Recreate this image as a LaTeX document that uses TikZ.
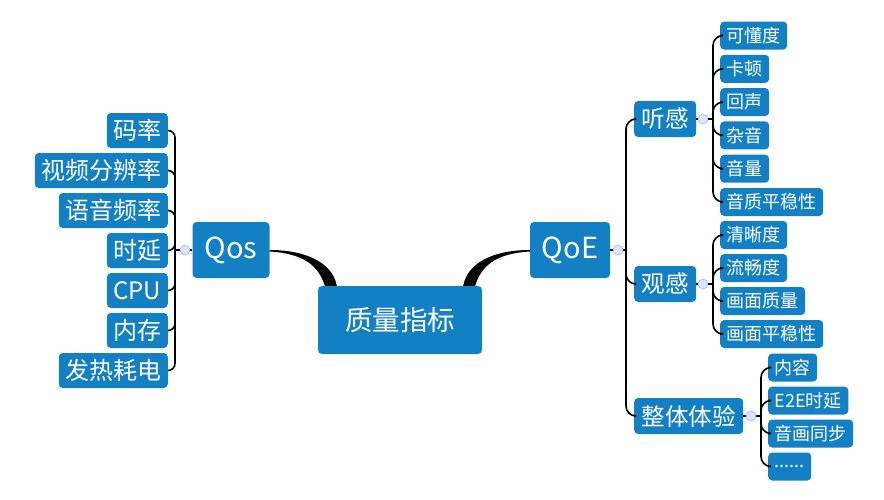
\documentclass[tikz,border=0pt]{standalone}
\usepackage{fontspec}
\setmainfont{Noto Sans CJK SC}
\usetikzlibrary{calc}
\definecolor{topic}{RGB}{20,128,196}
\definecolor{dotfill}{RGB}{222,228,248}
\definecolor{dotline}{RGB}{170,184,230}
\begin{document}
\begin{tikzpicture}[x=1pt, y=-1pt,
  box/.style={fill=topic, text=white, rounded corners=4pt, inner xsep=6.5pt, inner ysep=0pt},
  leafL/.style={box, anchor=east, minimum height=35pt, font=\fontsize{24}{24}\selectfont},
  leafR/.style={box, anchor=west, minimum height=28pt, font=\fontsize{18}{18}\selectfont},
  mid/.style={box, anchor=west, minimum height=36pt, inner xsep=7.5pt, font=\fontsize{23.5}{24}\selectfont},
  dot/.style={circle, draw=dotline, fill=dotfill, line width=0.6pt, minimum size=10pt, inner sep=0pt},
  branch/.style={draw=black, line width=1.6pt, rounded corners=7pt},
  curvy/.style={branch, rounded corners=10pt},
  hv/.style={to path={-| (\tikztotarget)}},
  vh/.style={to path={|- (\tikztotarget)}}]
\useasboundingbox (0,0) rectangle (884,499);
% root and the two main topics
\node[box, minimum width=164pt, minimum height=68pt, font=\fontsize{27.5}{28}\selectfont] (zlzb) at (400, 320) {质量指标};
\node[box, minimum width=77pt, minimum height=56pt, font=\fontsize{29}{30}\selectfont] (qos) at (231, 250) {Qos};
\node[box, minimum width=80pt, minimum height=56pt, font=\fontsize{29}{30}\selectfont] (qoe) at (570, 250) {QoE};
% Qos leaves
\node[leafL] (ml) at (168, 130.5) {码率};
\node[leafL] (spfbl) at (168, 170.5) {视频分辨率};
\node[leafL] (yypl) at (168, 210.5) {语音频率};
\node[leafL] (sy) at (168, 250.5) {时延};
\node[leafL] (cpu) at (168, 290.5) {CPU};
\node[leafL] (nc) at (168, 330.5) {内存};
\node[leafL] (frhd) at (168, 370.5) {发热耗电};
% QoE sub topics
\node[mid] (tg) at (634, 119) {听感};
\node[mid] (gg) at (634, 284) {观感};
\node[mid] (zttx) at (634, 416) {整体体验};
% 听感 leaves
\node[leafR] (kdd) at (720, 35.5) {可懂度};
\node[leafR] (kd) at (720, 68.8) {卡顿};
\node[leafR] (hs) at (720, 102.1) {回声};
\node[leafR] (zy) at (720, 135.4) {杂音};
\node[leafR] (yl) at (720, 168.7) {音量};
\node[leafR] (yzpwx) at (720, 202) {音质平稳性};
% 观感 leaves
\node[leafR] (qxd) at (720, 235) {清晰度};
\node[leafR] (lcd) at (720, 268) {流畅度};
\node[leafR] (hmzl) at (720, 301) {画面质量};
\node[leafR] (hmpwx) at (720, 334) {画面平稳性};
% 整体体验 leaves
\node[leafR] (nr) at (768, 367.5) {内容};
\node[leafR] (e2e) at (768, 400.5) {E2E时延};
\node[leafR] (yhtb) at (768, 433.5) {音画同步};
\node[leafR] (more) at (768, 466.5) {......};
% bars
\coordinate (qosbar) at (175, 250);
\coordinate (qoebar) at (626, 250);
\coordinate (tgbar) at (713, 119);
\coordinate (ggbar) at (713, 284);
\coordinate (zttxbar) at (761, 416);
% thick curves from the root
\fill[black] (qos.east) .. controls +(38,0) and +(-4,-22) .. ($(zlzb.north west)+(19,0)$)
  -- ($(zlzb.north west)+(7,0)$) .. controls +(-6,-20) and +(34,2) .. ($(qos.east)+(0,1.5)$) -- cycle;
\fill[black] (qoe.west) .. controls +(-38,0) and +(4,-22) .. ($(zlzb.north east)+(-19,0)$)
  -- ($(zlzb.north east)+(-7,0)$) .. controls +(6,-20) and +(-34,2) .. ($(qoe.west)+(0,1.5)$) -- cycle;
% Qos branches
\path [branch] (qos.west) edge (qosbar);
\path [branch] (ml.east) edge[hv] (qosbar);
\path [branch] (spfbl.east) edge[hv] (qosbar);
\path [branch] (yypl.east) edge[hv] (qosbar);
\path [branch] (sy.east) edge[hv] (qosbar);
\path [branch] (cpu.east) edge[hv] (qosbar);
\path [branch] (nc.east) edge[hv] (qosbar);
\path [branch] (frhd.east) edge[hv] (qosbar);
% QoE branches
\path [branch] (qoe.east) edge (qoebar);
\path [curvy] (qoebar) edge[vh] (tg.west);
\path [curvy] (qoebar) edge[vh] (gg.west);
\path [curvy] (qoebar) edge[vh] (zttx.west);
\path [branch] (tg.east) edge (tgbar);
\path [curvy] (tgbar) edge[vh] (kdd.west);
\path [curvy] (tgbar) edge[vh] (kd.west);
\path [curvy] (tgbar) edge[vh] (hs.west);
\path [curvy] (tgbar) edge[vh] (zy.west);
\path [curvy] (tgbar) edge[vh] (yl.west);
\path [curvy] (tgbar) edge[vh] (yzpwx.west);
\path [branch] (gg.east) edge (ggbar);
\path [curvy] (ggbar) edge[vh] (qxd.west);
\path [curvy] (ggbar) edge[vh] (lcd.west);
\path [curvy] (ggbar) edge[vh] (hmzl.west);
\path [curvy] (ggbar) edge[vh] (hmpwx.west);
\path [branch] (zttx.east) edge (zttxbar);
\path [curvy] (zttxbar) edge[vh] (nr.west);
\path [curvy] (zttxbar) edge[vh] (e2e.west);
\path [curvy] (zttxbar) edge[vh] (yhtb.west);
\path [curvy] (zttxbar) edge[vh] (more.west);
% collapse dots
\node[dot] (qosdot) at (185, 250) {};
\node[dot] (qoedot) at (618, 250) {};
\node[dot] (tgdot) at (703, 119) {};
\node[dot] (ggdot) at (703, 284) {};
\node[dot] (zttxdot) at (751, 416) {};
\end{tikzpicture}
\end{document}
